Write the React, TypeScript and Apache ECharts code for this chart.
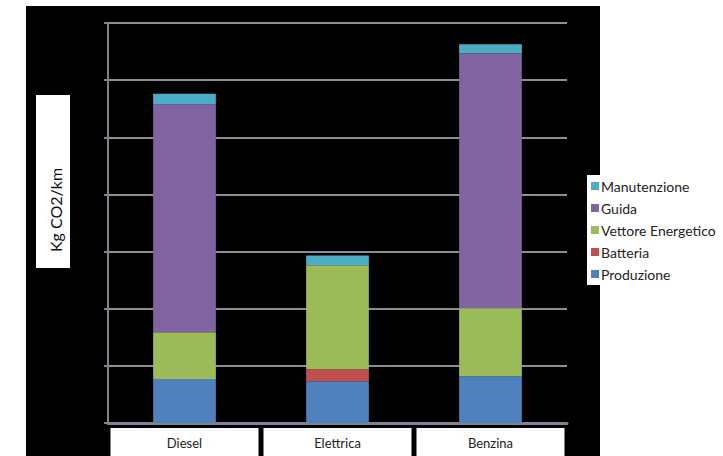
import React, { useEffect, useRef } from "react";
import * as echarts from "echarts";

const categories = ["Diesel", "Elettrica", "Benzina"];
const produzione = [38.5, 36.5, 41];
const batteria = [0, 10.5, 0];
const vettoreEnergetico = [41, 91, 59.5];
const guida = [199.5, 0, 223];
const manutenzione = [9, 8.5, 8];
const legendOrder = ["Manutenzione", "Guida", "Vettore Energetico", "Batteria", "Produzione"];
const yAxisTitle = "Kg CO2/km";

const FONT = "Lato, 'Open Sans', sans-serif";

export default function App() {
  const ref = useRef<HTMLDivElement>(null);
  useEffect(() => {
    if (!ref.current) return;
    const chart = echarts.init(ref.current, null, { renderer: "svg" });
    const mk = (name: string, data: number[], color: string) => ({
      name,
      type: "bar",
      stack: "total",
      data,
      barWidth: "41%",
      itemStyle: { color },
      emphasis: { disabled: true },
    });
    chart.setOption({
      animation: false,
      backgroundColor: "#ffffff",
      textStyle: { fontFamily: FONT },
      graphic: [
        {
          type: "rect",
          z: -10,
          silent: true,
          shape: { x: 26, y: 6, width: 574, height: 450 },
          style: { fill: "#000000" },
        },
        {
          type: "rect",
          z: 10,
          silent: true,
          shape: { x: 36, y: 95, width: 34, height: 173 },
          style: { fill: "#ffffff" },
        },
        {
          type: "text",
          z: 11,
          silent: true,
          x: 55,
          y: 210,
          rotation: Math.PI / 2,
          style: {
            text: yAxisTitle,
            fontSize: 16,
            fontFamily: FONT,
            fill: "#111",
            align: "center",
            verticalAlign: "middle",
          },
        },
      ],
      legend: {
        orient: "vertical",
        left: 587,
        top: 175,
        backgroundColor: "#ffffff",
        padding: [4, 2, 4, 4],
        itemWidth: 8,
        itemHeight: 8,
        itemGap: 8,
        icon: "rect",
        data: legendOrder,
        textStyle: { fontSize: 14, lineHeight: 14, color: "#222", fontFamily: FONT, padding: [0, 0, 0, -3] },
      },
      grid: { left: 108, right: 156, top: 23, bottom: 33 },
      xAxis: {
        type: "category",
        data: categories,
        axisLine: { show: true, lineStyle: { color: "#7f838d", width: 3 } },
        axisTick: { show: false },
        axisLabel: {
          margin: 5,
          backgroundColor: "#ffffff",
          width: 148,
          height: 28,
          lineHeight: 30,
          align: "center",
          fontSize: 13,
          color: "#222",
          fontFamily: FONT,
          interval: 0,
        },
      },
      yAxis: {
        type: "value",
        min: 0,
        max: 350,
        interval: 50,
        axisLine: { show: true, lineStyle: { color: "#7f838d", width: 2 } },
        axisTick: { show: true, length: 4, inside: false, lineStyle: { color: "#7f838d", width: 2 } },
        axisLabel: { show: false },
        splitLine: { show: true, lineStyle: { color: "#8a8f9a", width: 2 } },
      },
      series: [
        mk("Produzione", produzione, "#4F81BD"),
        mk("Batteria", batteria, "#C0504D"),
        mk("Vettore Energetico", vettoreEnergetico, "#9BBB59"),
        mk("Guida", guida, "#8064A2"),
        mk("Manutenzione", manutenzione, "#4BACC6"),
      ],
    });
    return () => chart.dispose();
  }, []);
  return (
    <div
      ref={ref}
      style={{ position: "fixed", left: 0, top: 0, width: 723, height: 456 }}
    />
  );
}
